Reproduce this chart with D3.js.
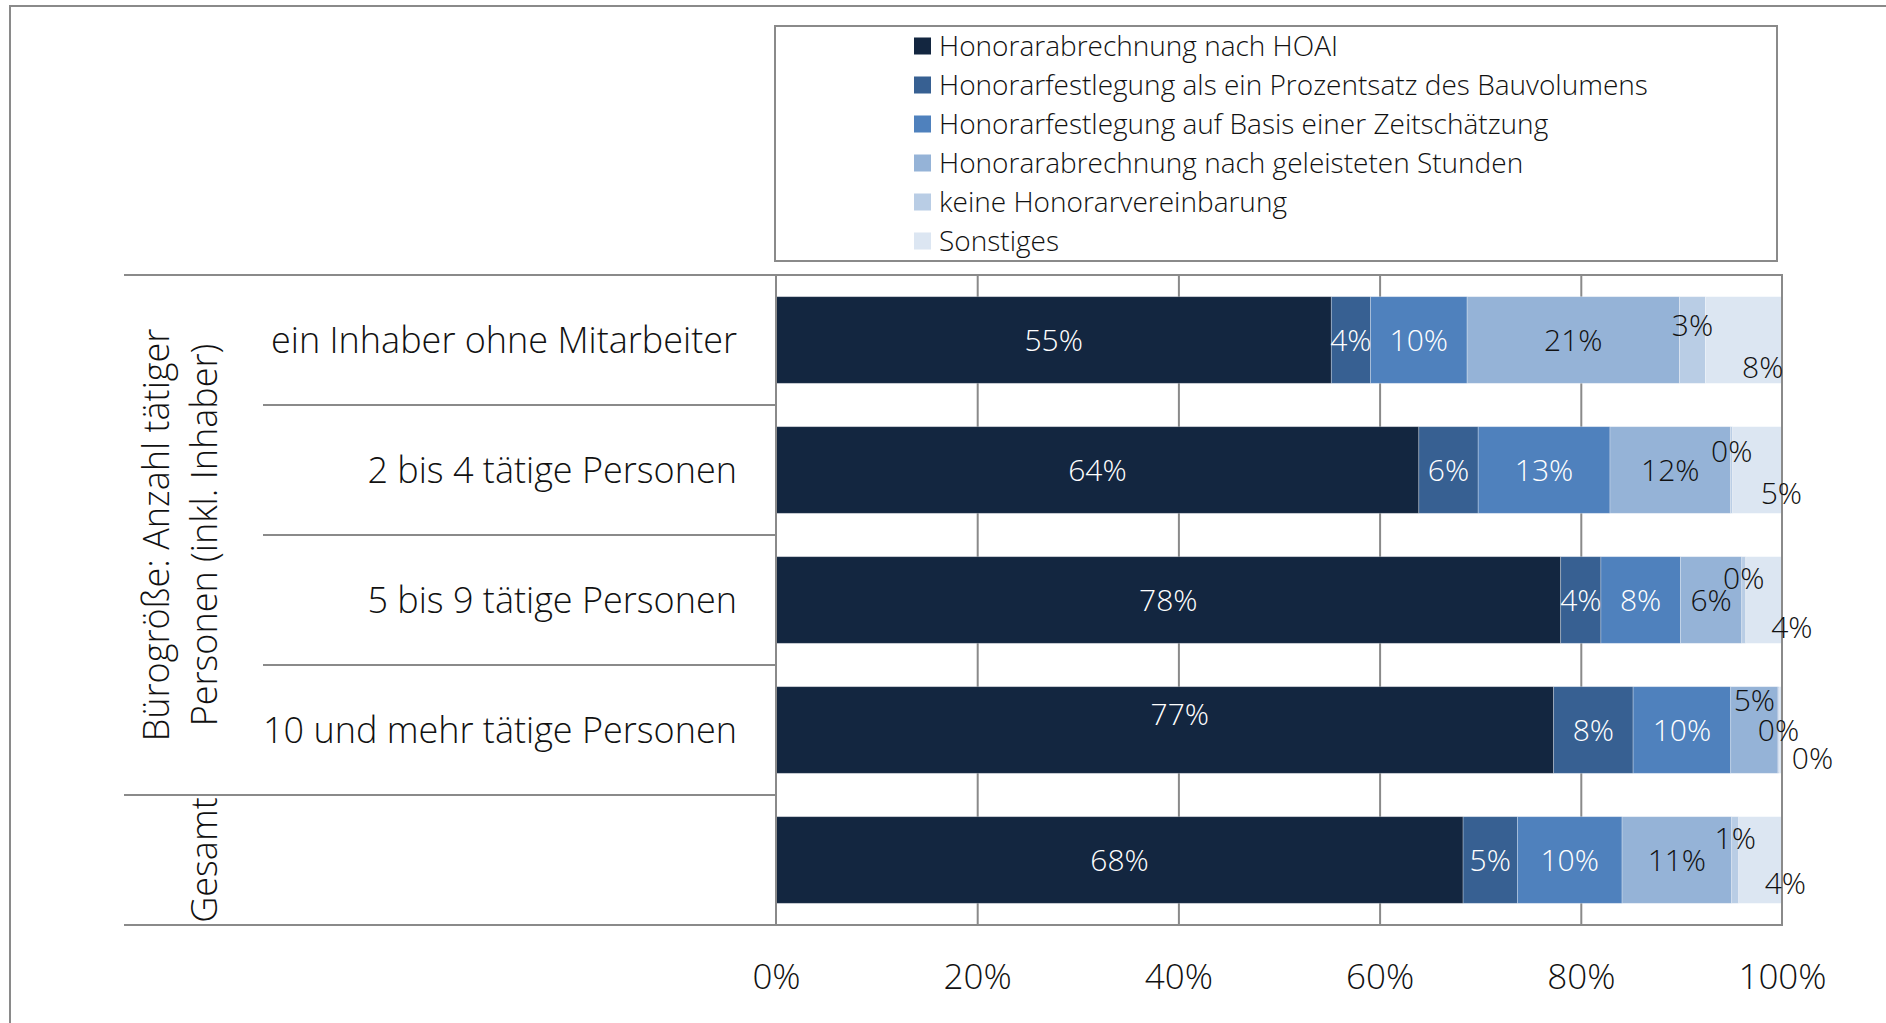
<!DOCTYPE html>
<html lang="de">
<head>
<meta charset="utf-8">
<title>Honorarvereinbarung nach Bürogröße</title>
<script src="https://cdn.jsdelivr.net/npm/d3@7"></script>
<style>
  html, body { margin: 0; padding: 0; background: #fff; }
  svg { display: block; }
  text { font-family: "Open Sans", "Noto Sans", sans-serif; font-weight: 300; }
</style>
</head>
<body>
<svg id="chart" width="1886" height="1023"></svg>
<script>
// Zeilen (Bürogröße) und Gruppen der linken Beschriftung
const rowLabels = [
  "ein Inhaber ohne Mitarbeiter",
  "2 bis 4 tätige Personen",
  "5 bis 9 tätige Personen",
  "10 und mehr tätige Personen",
  ""
];
const groupLabels = [
  ["Bürogröße: Anzahl tätiger", "Personen (inkl. Inhaber)"],
  ["Gesamt"]
];
const groupRows = [[0, 3], [4, 4]];

// Serien (Anteile in %)
const seriesNames = [
  "Honorarabrechnung nach HOAI",
  "Honorarfestlegung als ein Prozentsatz des Bauvolumens",
  "Honorarfestlegung auf Basis einer Zeitschätzung",
  "Honorarabrechnung nach geleisteten Stunden",
  "keine Honorarvereinbarung",
  "Sonstiges"
];
const hoai          = [55.2, 63.9, 78.0, 77.3, 68.3];
const prozentsatz   = [ 3.9,  5.9,  4.0,  7.9,  5.4];
const zeitschaetzung= [ 9.6, 13.1,  7.9,  9.7, 10.4];
const stunden       = [21.1, 12.0,  6.1,  4.7, 10.9];
const keine         = [ 2.6,  0.2,  0.4,  0.1,  0.7];
const sonstiges     = [ 7.6,  4.9,  3.6,  0.3,  4.3];

const tickValues = [0, 0.2, 0.4, 0.6, 0.8, 1];

const seriesValues = [hoai, prozentsatz, zeitschaetzung, stunden, keine, sonstiges];
const colors = ["#132640", "#376092", "#4f81bd", "#95b3d7", "#b9cde5", "#dce6f2"];
const labelColors = ["#fff", "#fff", "#fff", "#111", "#111", "#111"];

// Verschiebung einzelner Datenbeschriftungen kleiner Segmente: "zeile-serie": [dx, dy]
const labelNudge = {
  "0-4": [0, -15], "0-5": [19, 27],
  "1-4": [0, -19], "1-5": [24, 23],
  "2-4": [0, -22], "2-5": [28, 27],
  "3-0": [15, -16], "3-3": [0, -30], "3-5": [32, 28],
  "4-4": [0, -22], "4-5": [25, 23]
};

const svg = d3.select("#chart");
const grey = "#8a8a8a";

// Rahmen des Diagrammbereichs
svg.append("rect")
  .attr("x", 10).attr("y", 6).attr("width", 1900).attr("height", 1040)
  .attr("fill", "none").attr("stroke", grey).attr("stroke-width", 2);

const plot = { left: 776, right: 1782, top: 275, bottom: 925 };

const rows = rowLabels.map((name, i) => {
  const o = { idx: i };
  seriesNames.forEach((s, j) => { o[s] = seriesValues[j][i]; });
  return o;
});

const stack = d3.stack().keys(seriesNames).offset(d3.stackOffsetExpand);
const layers = stack(rows);

const x = d3.scaleLinear().domain([0, 1]).range([plot.left, plot.right]);
const y = d3.scaleBand().domain(d3.range(rows.length))
  .range([plot.top, plot.bottom]).paddingInner(1 / 3).paddingOuter(1 / 6);

// Gitterlinien
svg.append("g")
  .attr("transform", `translate(0,${plot.bottom})`)
  .call(d3.axisBottom(x).tickValues([0.2, 0.4, 0.6, 0.8]).tickSize(-(plot.bottom - plot.top)).tickFormat(""))
  .call(g => g.select(".domain").remove())
  .call(g => g.selectAll("line").attr("stroke", grey).attr("stroke-width", 2));

// Balken
const layerG = svg.append("g").selectAll("g").data(layers).join("g")
  .attr("fill", (d, i) => colors[i]);
layerG.selectAll("rect").data(d => d).join("rect")
  .attr("x", d => x(d[0]))
  .attr("width", d => x(d[1]) - x(d[0]))
  .attr("y", d => y(d.data.idx))
  .attr("height", y.bandwidth())
  .attr("stroke", "#ffffff").attr("stroke-opacity", 0.35).attr("stroke-width", 0.8);

// Rahmen der Zeichenfläche
svg.append("rect")
  .attr("x", plot.left).attr("y", plot.top)
  .attr("width", plot.right - plot.left).attr("height", plot.bottom - plot.top)
  .attr("fill", "none").attr("stroke", grey).attr("stroke-width", 2);

// Datenbeschriftungen
const fmt = v => Math.round(v) + "%";
layers.forEach((layer, j) => {
  svg.append("g").selectAll("text").data(layer).join("text")
    .attr("x", d => (x(d[0]) + x(d[1])) / 2 + (labelNudge[d.data.idx + "-" + j] || [0, 0])[0])
    .attr("y", d => y(d.data.idx) + y.bandwidth() / 2 + (labelNudge[d.data.idx + "-" + j] || [0, 0])[1])
    .attr("dy", "0.36em")
    .attr("text-anchor", "middle")
    .attr("font-size", 30)
    .attr("fill", labelColors[j])
    .text(d => fmt(d.data[seriesNames[j]]));
});

// x-Achse
svg.append("g")
  .attr("transform", `translate(0,${plot.bottom})`)
  .call(d3.axisBottom(x).tickValues(tickValues).tickFormat(d3.format(".0%")).tickSize(0))
  .call(g => g.select(".domain").remove())
  .call(g => g.selectAll("text")
    .attr("y", 51).attr("dy", "0.36em")
    .attr("font-size", 35).attr("fill", "#111")
    .style("font-family", "\"Open Sans\", sans-serif").style("font-weight", 300));

// Linke Beschriftungstabelle
const tableLeft = 124, subLeft = 263;
const rowStep = y.step();
const rowTop = i => plot.top + i * rowStep;
const sepY = [];
groupRows.forEach(([a, b]) => { sepY.push({ y: rowTop(a), x0: tableLeft }); for (let i = a + 1; i <= b; i++) sepY.push({ y: rowTop(i), x0: subLeft }); });
sepY.push({ y: rowTop(rows.length), x0: tableLeft });
svg.append("g").selectAll("line").data(sepY).join("line")
  .attr("x1", d => d.x0).attr("x2", plot.left)
  .attr("y1", d => d.y).attr("y2", d => d.y)
  .attr("stroke", grey).attr("stroke-width", 2);

svg.append("g").selectAll("text").data(rowLabels).join("text")
  .attr("x", 737)
  .attr("y", (d, i) => y(i) + y.bandwidth() / 2)
  .attr("dy", "0.36em")
  .attr("text-anchor", "end")
  .attr("font-size", 36)
  .attr("fill", "#111")
  .text(d => d);

groupLabels.forEach((lines, gi) => {
  const [a, b] = groupRows[gi];
  const cy = (rowTop(a) + rowTop(b + 1)) / 2;
  const lastX = 204;
  const t = svg.append("text")
    .attr("transform", `translate(${lastX - (lines.length - 1) * 48},${cy}) rotate(-90)`)
    .attr("text-anchor", "middle")
    .attr("font-size", 36)
    .attr("fill", "#111");
  lines.forEach((ln, k) => {
    t.append("tspan").attr("x", 0).attr("y", k * 48).attr("dy", "0.36em").text(ln);
  });
});

// Legende
const legend = { x: 775, y: 26, w: 1002, h: 235 };
svg.append("rect")
  .attr("x", legend.x).attr("y", legend.y).attr("width", legend.w).attr("height", legend.h)
  .attr("fill", "#fff").attr("stroke", grey).attr("stroke-width", 2);
const li = svg.append("g").selectAll("g").data(seriesNames).join("g")
  .attr("transform", (d, i) => `translate(914,${46 + i * 39})`);
li.append("rect").attr("x", 0).attr("y", -8.5).attr("width", 17).attr("height", 17)
  .attr("fill", (d, i) => colors[i]);
li.append("text").attr("x", 25).attr("dy", "0.36em")
  .attr("font-size", 28).attr("fill", "#111").text(d => d);
</script>
</body>
</html>
